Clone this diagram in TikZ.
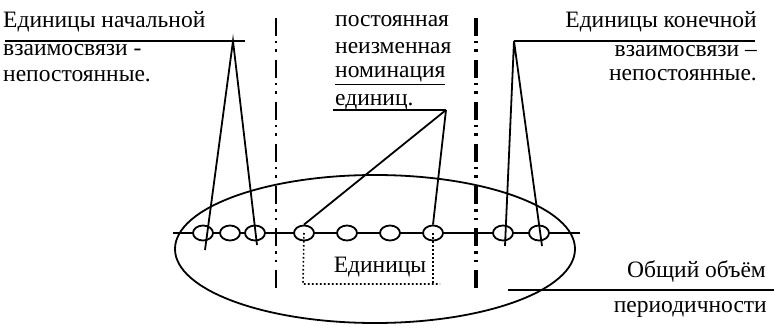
\documentclass[tikz,border=0pt]{standalone}
\usepackage{fontspec}
\setmainfont{Liberation Serif}
\usetikzlibrary{shapes.geometric}
\begin{document}
\begin{tikzpicture}[x=1pt,y=-1pt,
  ln/.style={line width=1.8pt},
  unit/.style={draw,ellipse,line width=1.8pt,fill=white,minimum width=20pt,minimum height=15pt,inner sep=0pt},
  txt/.style={inner sep=0pt,font=\fontsize{23.5}{27}\selectfont},
  dd/.style={dash pattern=on 18pt off 5pt on 2.5pt off 6pt on 2.5pt off 8pt},
  dotline/.style={line width=1.6pt,dash pattern=on 1.6pt off 2.4pt}]
\useasboundingbox (0,0) rectangle (774,326);
\fill[white] (0,0) rectangle (774,326);

% big ellipse
\draw[ln] (375,249) ellipse [x radius=200pt, y radius=74pt];

% dash-dot separators
\coordinate (d1t) at (276,18); \coordinate (d1b) at (276,290);
\coordinate (d2t) at (476,18); \coordinate (d2b) at (476,289);
\draw[line width=2.2pt,dd] (d1t) -- (d1b);
\draw[line width=3.2pt,dd] (d2t) -- (d2b);

% axis
\coordinate (axl) at (173,233); \coordinate (axr) at (580,233);
\draw[ln] (axl) -- (axr);

% units
\node[unit] (u1) at (203,233) {};
\node[unit] (u2) at (230,233) {};
\node[unit] (u3) at (255,233) {};
\node[unit] (u4) at (304,233) {};
\node[unit] (u5) at (347,233) {};
\node[unit] (u6) at (390,233) {};
\node[unit] (u7) at (433,233) {};
\node[unit] (u8) at (503,233) {};
\node[unit] (u9) at (539,233) {};

% left group
\coordinate (Ls) at (5,41); \coordinate (Le) at (245,41);
\coordinate (La) at (233,41);
\coordinate (Lb1) at (205,250); \coordinate (Lb2) at (257,245);
\draw[ln] (Ls) -- (Le);
\draw[ln] (Lb1) -- (La) -- (Lb2);

% right group
\coordinate (Rs) at (514,41); \coordinate (Re) at (755,41);
\coordinate (Rb1) at (505,246); \coordinate (Rb2) at (542,246);
\draw[ln] (Rs) -- (Re);
\draw[ln] (Rb1) -- (Rs) -- (Rb2);

% middle group
\coordinate (Mu) at (333,110); \coordinate (Ma) at (446,110);
\draw[ln] (Mu) -- (Ma);
\draw[ln] (Ma) -- (u4.north);
\draw[ln] (Ma) -- (u7.north);

% dotted box
\coordinate (b1) at (303,284); \coordinate (b2) at (440,284); \coordinate (b3) at (433,284);
\draw[dotline] (u4.center) -- (b1) -- (b2);
\draw[dotline] (u7.center) -- (b3);

% bottom right line
\coordinate (Bs) at (508,290); \coordinate (Be) at (774,290);
\draw[ln] (Bs) -- (Be);

% texts
\node[txt,anchor=base west] (t1) at (3,28) {Единицы начальной};
\node[txt,anchor=base west] (t2) at (3,56) {взаимосвязи -};
\node[txt,anchor=base west] (t3) at (3,82) {непостоянные.};

\node[txt,anchor=base west] (m1) at (335,27) {постоянная};
\node[txt,anchor=base west] (m2) at (335,54) {неизменная};
\node[txt,anchor=base west] (m3) at (335,78) {\underline{номинация}};
\node[txt,anchor=base west] (m4) at (335,106) {единиц.};

\node[txt,anchor=base east] (r1) at (757,28) {Единицы конечной};
\node[txt,anchor=base east] (r2) at (757,57) {взаимосвязи –};
\node[txt,anchor=base east] (r3) at (757,81) {непостоянные.};

\node[txt,anchor=base] (e) at (380,272) {Единицы};
\node[txt,anchor=base east] (o1) at (766,277) {Общий объём};
\node[txt,anchor=base east] (o2) at (767,312) {периодичности};
\end{tikzpicture}
\end{document}
